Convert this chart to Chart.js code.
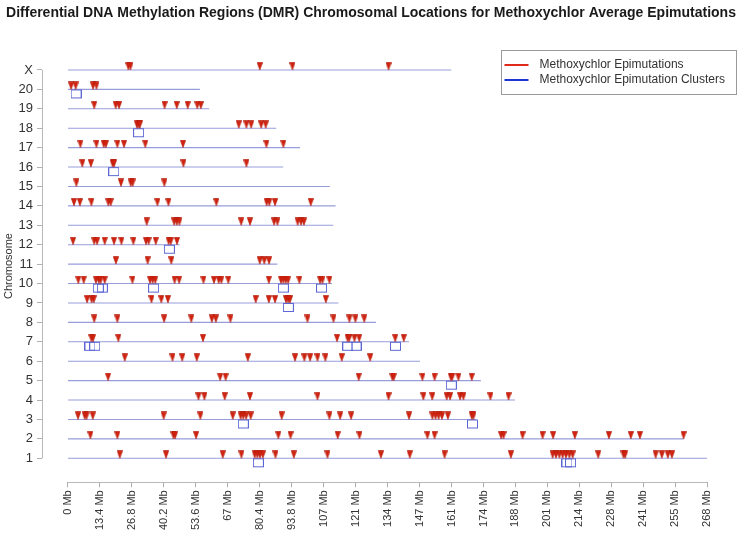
<!DOCTYPE html>
<html>
<head>
<meta charset="utf-8">
<title>DMR chromosomal locations</title>
<script src="https://cdn.jsdelivr.net/npm/chart.js@4.4.1/dist/chart.umd.min.js"></script>
<style>
  html, body { margin: 0; padding: 0; background: #fff; }
  #dmrChart { display: block; }
</style>
</head>
<body>
<canvas id="dmrChart" width="742" height="533"></canvas>
<script>
// chromosome names, bottom to top
const chromosomes = ['1', '2', '3', '4', '5', '6', '7', '8', '9', '10',
    '11', '12', '13', '14', '15', '16', '17', '18', '19', '20', 'X'];

// chromosome lengths in Mb
const chromosomeLengths = [267.9, 258.2, 171.1, 187.4, 173.1, 147.6, 143.0, 129.1, 113.4, 110.7,
    87.8, 46.8, 111.2, 112.2, 109.8, 90.2, 97.3, 87.3, 59.2, 55.3, 160.7];

// epimutation (DMR) positions in Mb, one list per chromosome
const epimutations = [
    [21.7, 41.1, 64.9, 72.7, 78.3, 79.4, 80.5, 81.7, 87.0, 94.7, 108.8, 131.2, 143.3, 157.9, 185.7,
        203.2, 204.6, 206.0, 207.4, 208.8, 210.2, 211.6, 222.3, 232.9, 233.6, 246.4, 249.0, 251.5, 253.2],
    [9.4, 20.7, 44.2, 44.9, 53.7, 88.2, 93.3, 113.1, 122.2, 150.7, 153.7, 181.6, 182.6, 190.6, 199.0,
        203.4, 212.5, 226.8, 236.0, 239.8, 258.1],
    [4.2, 7.0, 7.8, 10.4, 40.1, 55.5, 69.1, 72.4, 73.5, 74.7, 76.6, 89.6, 109.6, 114.1, 118.7, 143.0,
        152.8, 154.1, 155.4, 156.8, 159.3, 169.3, 170.0],
    [54.7, 57.2, 65.7, 76.3, 104.6, 134.4, 149.0, 152.7, 158.8, 160.2, 164.4, 165.8, 177.1, 184.7],
    [16.8, 63.8, 66.1, 121.9, 136.0, 136.6, 148.6, 153.7, 160.5, 161.1, 163.7, 169.3],
    [23.8, 43.8, 47.9, 54.0, 75.4, 95.2, 99.1, 101.5, 104.6, 107.9, 114.8, 126.7],
    [9.8, 10.5, 21.1, 56.6, 112.8, 117.2, 117.9, 120.1, 122.1, 137.2, 140.8],
    [11.0, 20.7, 40.3, 51.7, 60.3, 62.0, 68.1, 100.4, 111.3, 118.0, 120.5, 124.2],
    [8.0, 9.9, 10.8, 35.0, 39.1, 41.9, 78.7, 84.2, 86.8, 91.4, 92.3, 93.1, 108.1],
    [4.3, 6.6, 11.7, 12.9, 13.7, 15.4, 27.0, 34.4, 35.5, 36.6, 44.7, 46.6, 56.8, 61.2, 63.2, 64.3,
        67.2, 84.2, 89.3, 90.3, 91.3, 92.3, 97.0, 105.7, 106.7, 109.6],
    [20.1, 33.4, 43.3, 80.4, 82.3, 84.3],
    [2.1, 11.0, 12.2, 15.4, 19.3, 22.4, 27.4, 32.7, 33.8, 36.8, 42.2, 43.1, 45.7],
    [33.0, 44.5, 45.6, 46.7, 72.6, 76.3, 86.4, 87.8, 96.3, 97.7, 98.9],
    [2.5, 5.0, 9.8, 16.9, 17.9, 37.5, 42.1, 62.2, 83.3, 84.4, 86.8, 101.8],
    [3.5, 22.2, 26.3, 27.1, 40.4],
    [6.0, 9.6, 18.7, 19.3, 48.4, 74.8],
    [5.2, 11.9, 15.0, 15.9, 20.7, 23.5, 32.4, 48.2, 83.2, 90.3],
    [28.9, 29.6, 30.1, 71.6, 74.8, 76.8, 81.0, 82.9],
    [11.0, 20.0, 21.4, 40.5, 45.6, 50.2, 54.2, 55.7],
    [1.3, 3.2, 10.5, 11.9],
    [25.3, 26.2, 80.4, 94.1, 134.4]
];

// epimutation cluster positions in Mb
const clusters = [
    [79.8, 209.2, 210.7], [], [73.5, 169.6], [], [160.7], [], [9.2, 11.2, 117.3, 120.8, 137.3],
    [], [92.4], [12.7, 14.4, 35.9, 90.3, 106.3], [], [42.5], [], [], [], [19.2], [], [29.6], [], [3.4], []
];

const xTicks = [0, 13.4, 26.8, 40.2, 53.6, 67, 80.4, 93.8, 107.2, 120.6, 134,
    147.4, 160.8, 174.2, 187.6, 201, 214.4, 227.8, 241.2, 254.6, 268];
const xTickLabels = ['0 Mb', '13.4 Mb', '26.8 Mb', '40.2 Mb', '53.6 Mb', '67 Mb', '80.4 Mb', '93.8 Mb',
    '107 Mb', '121 Mb', '134 Mb', '147 Mb', '161 Mb', '174 Mb', '188 Mb', '201 Mb', '214 Mb',
    '228 Mb', '241 Mb', '255 Mb', '268 Mb'];

const legendLabels = ['Methoxychlor Epimutations', 'Methoxychlor Epimutation Clusters'];

// marker images: centre of the canvas sits on the chromosome line
function triangleMarker() {
    const c = document.createElement('canvas');
    c.width = 6;
    c.height = 16;
    const g = c.getContext('2d');
    g.fillStyle = '#d2220f';
    g.strokeStyle = '#b01a0a';
    g.lineWidth = 0.6;
    g.beginPath();
    g.moveTo(0.3, 0.5);
    g.lineTo(5.7, 0.5);
    g.lineTo(3, 8);
    g.closePath();
    g.fill();
    g.stroke();
    return c;
}

function squareMarker() {
    const c = document.createElement('canvas');
    c.width = 11;
    c.height = 20;
    const g = c.getContext('2d');
    g.strokeStyle = '#5d68d4';
    g.lineWidth = 1;
    g.strokeRect(0.5, 10.5, 10, 8);
    return c;
}

const lineSets = chromosomes.map((name, i) => ({
    label: 'chr' + name,
    data: [{ x: 0, y: i + 1 }, { x: chromosomeLengths[i], y: i + 1 }],
    showLine: true,
    borderColor: '#979dda',
    borderWidth: 1.1,
    pointRadius: 0,
    order: 3
}));

const epiPoints = [];
epimutations.forEach((list, i) => list.forEach(mb => epiPoints.push({ x: mb, y: i + 1 })));
const clusterPoints = [];
clusters.forEach((list, i) => list.forEach(mb => clusterPoints.push({ x: mb, y: i + 1 })));

// axis lines only span the data, like the original
const axisLines = {
    id: 'axisLines',
    beforeDatasetsDraw(chart) {
        const { ctx, chartArea, scales } = chart;
        ctx.save();
        ctx.strokeStyle = '#b8b8b8';
        ctx.lineWidth = 1;
        ctx.beginPath();
        const yb = Math.round(chartArea.bottom) + 0.5;
        ctx.moveTo(scales.x.getPixelForValue(0), yb);
        ctx.lineTo(scales.x.getPixelForValue(268), yb);
        const xl = Math.round(chartArea.left) + 0.5;
        ctx.moveTo(xl, scales.y.getPixelForValue(1));
        ctx.lineTo(xl, scales.y.getPixelForValue(chromosomes.length));
        ctx.stroke();
        ctx.restore();
    }
};

const legendBox = {
    id: 'legendBox',
    afterDraw(chart) {
        const { ctx } = chart;
        const x = chart.width - 240.5, y = 50.5;
        ctx.save();
        ctx.strokeStyle = '#9a9a9a';
        ctx.lineWidth = 1;
        ctx.strokeRect(x, y, 235, 44);
        const colors = ['#e0281c', '#1d34d6'];
        ctx.font = '12px "Liberation Sans", Arial, sans-serif';
        ctx.textBaseline = 'middle';
        ctx.fillStyle = '#333';
        legendLabels.forEach((t, k) => {
            const ly = y + 14.5 + k * 15;
            ctx.strokeStyle = colors[k];
            ctx.lineWidth = 2;
            ctx.beginPath();
            ctx.moveTo(x + 3, ly);
            ctx.lineTo(x + 27, ly);
            ctx.stroke();
            ctx.fillText(t, x + 38, ly);
        });
        ctx.restore();
    }
};

Chart.defaults.font.family = '"Liberation Sans", Arial, sans-serif';
Chart.defaults.color = '#333';

new Chart(document.getElementById('dmrChart'), {
    type: 'scatter',
    data: {
        datasets: [
            {
                label: legendLabels[0],
                data: epiPoints,
                pointStyle: triangleMarker(),
                pointRadius: 4,
                order: 1
            },
            {
                label: legendLabels[1],
                data: clusterPoints,
                pointStyle: squareMarker(),
                pointRadius: 4,
                order: 2
            },
            ...lineSets
        ]
    },
    options: {
        responsive: false,
        animation: false,
        events: [],
        layout: { padding: 0 },
        plugins: {
            legend: { display: false },
            tooltip: { enabled: false },
            title: {
                display: true,
                text: 'Differential DNA Methylation Regions (DMR) Chromosomal Locations for Methoxychlor Average Epimutations',
                color: '#1a1a1a',
                font: { size: 14, weight: 'bold' },
                padding: { top: 5, bottom: 28 }
            }
        },
        scales: {
            x: {
                type: 'linear',
                min: -10.9,
                max: 280.5,
                border: { display: false },
                grid: { drawOnChartArea: false, drawTicks: true, tickLength: 5, tickColor: '#b0b0b0' },
                ticks: {
                    autoSkip: false,
                    minRotation: 90,
                    maxRotation: 90,
                    padding: 3,
                    font: { size: 11 },
                    color: '#333',
                    callback: (v, i) => xTickLabels[i]
                },
                afterBuildTicks: scale => { scale.ticks = xTicks.map(v => ({ value: v })); },
                afterFit: scale => { scale.height = 50.7; }
            },
            y: {
                type: 'linear',
                min: -0.236,
                max: 22.04,
                border: { display: false },
                grid: { drawOnChartArea: false, drawTicks: true, tickLength: 5, tickColor: '#b0b0b0' },
                ticks: {
                    padding: 4,
                    font: { size: 13 },
                    color: '#333',
                    callback: v => chromosomes[Math.round(v) - 1]
                },
                title: {
                    display: true,
                    text: 'Chromosome',
                    font: { size: 11 },
                    color: '#333',
                    padding: { top: 2, bottom: 0 }
                },
                afterBuildTicks: scale => { scale.ticks = chromosomes.map((c, i) => ({ value: i + 1 })); },
                afterFit: scale => { scale.width = 42; }
            }
        }
    },
    plugins: [axisLines, legendBox]
});
</script>
</body>
</html>
